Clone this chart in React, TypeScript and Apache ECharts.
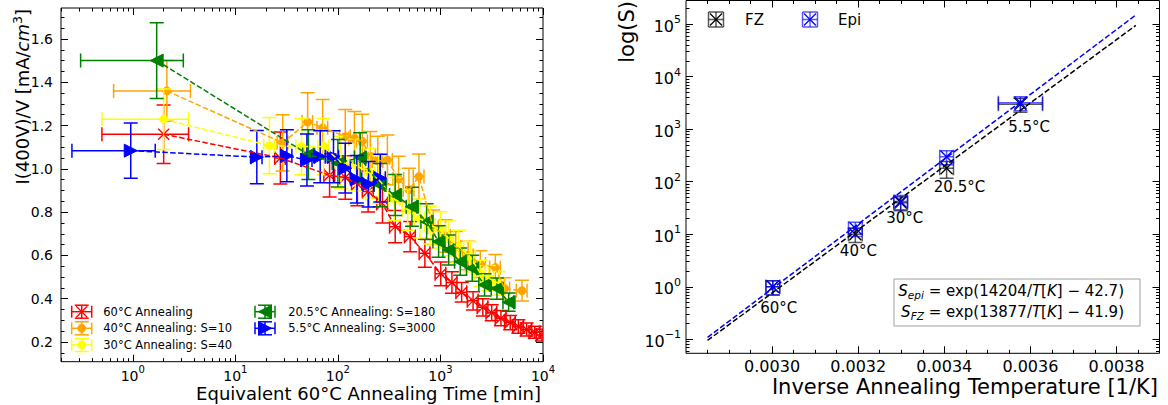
import React, { useEffect, useRef } from 'react';
import * as echarts from 'echarts';

const FONT = 'DejaVu Sans';

// ---------------- Left panel: I(400V)/V vs equivalent 60°C annealing time ----------------
const redT = [2.0, 27.5, 83, 118, 155, 197, 272, 362, 507, 705, 1007, 1294, 1610, 2080, 2590, 3160, 3890, 4790, 5750, 6920, 8320, 9770];
const redV = [1.16, 1.05, 0.97, 0.96, 0.93, 0.895, 0.84, 0.733, 0.687, 0.61, 0.515, 0.475, 0.43, 0.39, 0.36, 0.335, 0.31, 0.29, 0.272, 0.258, 0.245, 0.232];
const redTErr = [1.5, 3.3, 10, 14, 19, 24, 33, 43, 61, 85, 120, 155, 195, 250, 310, 380, 470, 575, 690, 830, 1000, 1170];
const redVErr = [0.135, 0.12, 0.1, 0.1, 0.1, 0.095, 0.09, 0.075, 0.07, 0.065, 0.055, 0.05, 0.045, 0.042, 0.04, 0.037, 0.035, 0.033, 0.031, 0.03, 0.028, 0.027];

const orangeT = [2.15, 29, 50.7, 71, 118, 145, 173, 207, 245, 304, 391, 493, 617, 850, 1120, 1410, 1860, 2450, 3430, 4220, 6240];
const orangeV = [1.36, 1.12, 1.216, 1.19, 1.149, 1.14, 1.127, 1.058, 1.036, 1.041, 0.953, 0.903, 0.964, 0.73, 0.69, 0.64, 0.6, 0.56, 0.544, 0.447, 0.437];
const orangeTErr = [1.5, 3.5, 6, 8.5, 14, 17, 21, 25, 29, 36, 47, 59, 74, 100, 135, 170, 220, 295, 410, 505, 750];
const orangeVErr = [0.14, 0.13, 0.135, 0.13, 0.125, 0.125, 0.125, 0.115, 0.115, 0.115, 0.105, 0.1, 0.105, 0.08, 0.075, 0.07, 0.066, 0.062, 0.06, 0.05, 0.048];

const yellowT = [2.0, 21.5, 44.2, 72.4, 107, 148, 204, 251, 355, 479, 631, 794, 1000, 1202, 1503, 1950, 2443, 2951, 3690];
const yellowV = [1.229, 1.107, 1.103, 1.103, 1.03, 1.018, 0.98, 0.95, 0.86, 0.81, 0.77, 0.74, 0.718, 0.679, 0.641, 0.594, 0.518, 0.495, 0.471];
const yellowTErr = [1.5, 2.6, 5.3, 8.7, 13, 18, 24, 30, 43, 57, 76, 95, 120, 145, 180, 235, 295, 355, 445];
const yellowVErr = [0.14, 0.13, 0.13, 0.13, 0.12, 0.12, 0.115, 0.11, 0.1, 0.095, 0.09, 0.087, 0.084, 0.08, 0.075, 0.07, 0.06, 0.058, 0.055];

const greenT = [1.71, 51.6, 100, 165, 257, 362, 527, 733, 959, 1202, 1560, 2042, 2692, 3556, 4624];
const greenV = [1.5, 1.066, 1.026, 1.052, 0.925, 0.879, 0.825, 0.756, 0.664, 0.625, 0.571, 0.541, 0.464, 0.447, 0.384];
const greenTErr = [1.4, 6.2, 12, 20, 31, 43, 63, 88, 115, 145, 187, 245, 323, 427, 555];
const greenVErr = [0.175, 0.115, 0.11, 0.115, 0.1, 0.095, 0.09, 0.083, 0.073, 0.069, 0.063, 0.06, 0.051, 0.049, 0.042];

const blueT = [0.955, 16.2, 31.8, 49.9, 67.2, 90.6, 118, 153, 199, 259];
const blueV = [1.084, 1.054, 1.06, 1.041, 1.056, 1.056, 1.003, 0.952, 0.929, 0.957];
const blueTErr = [0.7, 2, 3.8, 6, 8, 11, 14, 18, 24, 31];
const blueVErr = [0.128, 0.123, 0.12, 0.12, 0.12, 0.12, 0.115, 0.11, 0.105, 0.11];

const leftNames = ['60°C Annealing', '40°C Annealing: S=10', '30°C Annealing: S=40', '20.5°C Annealing: S=180', '5.5°C Annealing: S=3000'];
const leftXDecades = [0, 1, 2, 3, 4];
const leftYMajor = [0.2, 0.4, 0.6, 0.8, 1.0, 1.2, 1.4, 1.6];
const leftYMinor = [0.15, 0.25, 0.3, 0.35, 0.45, 0.5, 0.55, 0.65, 0.7, 0.75, 0.85, 0.9, 0.95, 1.05, 1.1, 1.15, 1.25, 1.3, 1.35, 1.45, 1.5, 1.55, 1.65, 1.7];

// ---------------- Right panel: scaling factor S vs inverse temperature ----------------
const tempLabels = ['60°C', '40°C', '30°C', '20.5°C', '5.5°C'];
const invT = [0.0030017, 0.0031934, 0.0032987, 0.0034054, 0.003577];
const invTErr = [0.000016, 0.000016, 0.000016, 0.000016, 0.0000513];
const sFZ = [1, 10, 40, 180, 3000];
const sFZErr = [0.3, 0.3, 0.3, 0.35, 0.3];
const sEpi = [1, 13, 42, 300, 3200];
const sEpiErr = [0.3, 0.3, 0.3, 0.3, 0.3];
const fitA = [13877, 14204]; // FZ, Epi
const fitB = [41.9, 42.7];
const fitX = [0.00285, 0.003845];
const annInvT = [0.0030155, 0.0032005, 0.0033082, 0.0034354, 0.0035972];
const annS = [0.388, 4.84, 20.0, 78, 1110];
const rightXMajor = [0.0030, 0.0032, 0.0034, 0.0036, 0.0038];
const rightXMinor = [0.00285, 0.0029, 0.00295, 0.00305, 0.0031, 0.00315, 0.00325, 0.0033, 0.00335, 0.00345, 0.0035, 0.00355, 0.00365, 0.0037, 0.00375, 0.00385];
const rightYDecades = [-1, 0, 1, 2, 3, 4, 5];

const L10 = Math.log10;

function logMinor(decades: number[], lo: number, hi: number) {
  const out: number[] = [];
  for (let d = decades[0] - 1; d <= decades[decades.length - 1]; d++) {
    for (let k = 2; k <= 9; k++) {
      const v = d + L10(k);
      if (v > lo && v < hi) out.push(v);
    }
  }
  return out;
}

function expStr(v: number) {
  const n = Math.round(v);
  return n < 0 ? '−' + Math.abs(n) : String(n);
}

function markerEls(kind: string, cx: number, cy: number, color: string, r: number, lw: number) {
  if (kind === 'x') {
    return [
      { type: 'line', shape: { x1: cx - r, y1: cy - r, x2: cx + r, y2: cy + r }, style: { stroke: color, lineWidth: lw } },
      { type: 'line', shape: { x1: cx - r, y1: cy + r, x2: cx + r, y2: cy - r }, style: { stroke: color, lineWidth: lw } },
    ];
  }
  if (kind === 'o') {
    return [{ type: 'circle', shape: { cx, cy, r }, style: { fill: color, stroke: color, lineWidth: 1 } }];
  }
  if (kind === '<') {
    return [{ type: 'polygon', shape: { points: [[cx - r, cy], [cx + r, cy - r], [cx + r, cy + r]] }, style: { fill: color, stroke: color, lineWidth: 1 } }];
  }
  return [{ type: 'polygon', shape: { points: [[cx + r, cy], [cx - r, cy - r], [cx - r, cy + r]] }, style: { fill: color, stroke: color, lineWidth: 1 } }];
}

function barEls(cx: number, cy: number, xl: number, xr: number, yt: number, yb: number, capX: number, capY: number, color: string, lw: number, opacity: number) {
  const st = { stroke: color, lineWidth: lw, opacity };
  return [
    { type: 'line', shape: { x1: xl, y1: cy, x2: xr, y2: cy }, style: st },
    { type: 'line', shape: { x1: xl, y1: cy - capX, x2: xl, y2: cy + capX }, style: st },
    { type: 'line', shape: { x1: xr, y1: cy - capX, x2: xr, y2: cy + capX }, style: st },
    { type: 'line', shape: { x1: cx, y1: yt, x2: cx, y2: yb }, style: st },
    { type: 'line', shape: { x1: cx - capY, y1: yt, x2: cx + capY, y2: yt }, style: st },
    { type: 'line', shape: { x1: cx - capY, y1: yb, x2: cx + capY, y2: yb }, style: st },
  ];
}

function errSeries(xIdx: number, rows: number[][], color: string, marker: string, r: number, cap: number, lw: number, barOpacity: number) {
  return {
    type: 'custom',
    xAxisIndex: xIdx,
    yAxisIndex: xIdx,
    clip: true,
    silent: true,
    encode: { x: 0, y: 1 },
    data: rows,
    renderItem: (_p: any, api: any) => {
      const x = api.value(0);
      const y = api.value(1);
      const c = api.coord([x, y]);
      const l = api.coord([api.value(2), y]);
      const rr = api.coord([api.value(3), y]);
      const lo = api.coord([x, api.value(4)]);
      const hi = api.coord([x, api.value(5)]);
      return {
        type: 'group',
        children: [
          ...barEls(c[0], c[1], l[0], rr[0], hi[1], lo[1], cap, cap, color, lw, barOpacity),
          ...markerEls(marker, c[0], c[1], color, r, marker === 'x' ? 1.3 : 1),
        ],
      };
    },
  };
}

function axisSet(dim: 'x' | 'y', gridIndex: number, min: number, max: number, major: number[], minor: number[], label: any) {
  const pos = dim === 'x' ? ['bottom', 'top'] : ['left', 'right'];
  const mk = (position: string, vals: number[], len: number, withLabel: boolean) => ({
    type: 'value',
    gridIndex,
    position,
    min,
    max,
    silent: true,
    axisLine: { show: false, onZero: false },
    splitLine: { show: false },
    axisTick: { show: true, inside: true, length: len, customValues: vals, lineStyle: { color: '#000', width: 1 } },
    axisLabel: withLabel ? { ...label, customValues: major } : { show: false },
  });
  return [mk(pos[0], major, 7, true), mk(pos[0], minor, 3.5, false), mk(pos[1], major, 7, false), mk(pos[1], minor, 3.5, false)];
}

function buildOption() {
  const groups = [
    { color: '#ff0000', marker: 'x', r: 5.5, t: redT, v: redV, te: redTErr, ve: redVErr },
    { color: '#ffa500', marker: 'o', r: 4, t: orangeT, v: orangeV, te: orangeTErr, ve: orangeVErr },
    { color: '#ffff00', marker: 'o', r: 4, t: yellowT, v: yellowV, te: yellowTErr, ve: yellowVErr },
    { color: '#008000', marker: '<', r: 6.5, t: greenT, v: greenV, te: greenTErr, ve: greenVErr },
    { color: '#0000ff', marker: '>', r: 6.5, t: blueT, v: blueV, te: blueTErr, ve: blueVErr },
  ];

  const series: any[] = [];
  groups.forEach((g) => {
    series.push({
      type: 'line',
      xAxisIndex: 0,
      yAxisIndex: 0,
      silent: true,
      symbol: 'none',
      data: g.t.map((t, i) => [L10(t), g.v[i]]),
      lineStyle: { color: g.color, width: 1.5, type: [5.5, 2.4] },
    });
    series.push(
      errSeries(
        0,
        g.t.map((t, i) => [L10(t), g.v[i], L10(t - g.te[i]), L10(t + g.te[i]), g.v[i] - g.ve[i], g.v[i] + g.ve[i]]),
        g.color,
        g.marker,
        g.r,
        7,
        1.5,
        1
      )
    );
  });

  // right panel points
  const rightGroups = [
    { color: '#000000', s: sFZ, e: sFZErr },
    { color: '#0000ff', s: sEpi, e: sEpiErr },
  ];
  rightGroups.forEach((g) => {
    series.push(
      errSeries(
        4,
        invT.map((x, i) => [x, L10(g.s[i]), x - invTErr[i], x + invTErr[i], L10(g.s[i] * (1 - g.e[i])), L10(g.s[i] * (1 + g.e[i]))]),
        g.color,
        'x',
        6,
        7,
        1.5,
        0.65
      )
    );
  });
  // fit lines
  rightGroups.forEach((g, k) => {
    series.push({
      type: 'line',
      xAxisIndex: 4,
      yAxisIndex: 4,
      silent: true,
      symbol: 'none',
      data: fitX.map((x) => [x, (fitA[k] * x - fitB[k]) / Math.LN10]),
      lineStyle: { color: g.color, width: 1.5, type: [5.5, 2.4] },
    });
  });
  // temperature annotations
  series.push({
    type: 'custom',
    xAxisIndex: 4,
    yAxisIndex: 4,
    silent: true,
    encode: { x: 0, y: 1 },
    data: annInvT.map((x, i) => [x, L10(annS[i])]),
    renderItem: (p: any, api: any) => {
      const c = api.coord([api.value(0), api.value(1)]);
      return {
        type: 'text',
        x: c[0],
        y: c[1],
        style: {
          text: tempLabels[p.dataIndex],
          fill: '#000',
          fontSize: 15,
          fontFamily: FONT,
          align: 'center',
          verticalAlign: 'middle',
          textAlign: 'center',
          textVerticalAlign: 'middle',
        },
      };
    },
  });

  const leftXMinor = logMinor(leftXDecades, -0.7, 4.0);
  const rightYMinor = logMinor(rightYDecades, -1.266, 5.45);

  const logLabel = (size: number, supSize: number, lh: number, raise: number, margin: number) => ({
    show: true,
    color: '#000',
    fontSize: size,
    fontFamily: FONT,
    margin,
    formatter: (v: number) => `{b|10}{s|${expStr(v)}}`,
    rich: {
      b: { fontSize: size, fontFamily: FONT, color: '#000', lineHeight: lh, verticalAlign: 'bottom' },
      s: { fontSize: supSize, fontFamily: FONT, color: '#000', lineHeight: lh - 2 * raise, verticalAlign: 'top' },
    },
  });

  const xAxis = [
    ...axisSet('x', 0, -0.7, 4.0, leftXDecades, leftXMinor, logLabel(14, 10, 18, 5, 3)),
    ...axisSet('x', 1, 0.0028, 0.0039, rightXMajor, rightXMinor, {
      show: true, color: '#000', fontSize: 16, fontFamily: FONT, margin: 5,
      formatter: (v: number) => v.toFixed(4),
    }),
  ];
  const yAxis = [
    ...axisSet('y', 0, 0.109, 1.743, leftYMajor, leftYMinor, {
      show: true, color: '#000', fontSize: 14, fontFamily: FONT, margin: 8,
      formatter: (v: number) => v.toFixed(1),
    }),
    ...axisSet('y', 1, -1.266, 5.45, rightYDecades, rightYMinor, logLabel(16, 11, 20, 5.5, 5)),
  ];

  // legends and titles
  const leftLegendMarkers = ['x', 'o', 'o', '<', '>'];
  const leftLegendColors = groups.map((g) => g.color);
  const leftLegendR = groups.map((g) => g.r);
  const legendPos = [
    [81.7, 311.7, 103.3], [81.7, 328.3, 103.3], [81.7, 345, 103.3],
    [265, 311.7, 288.3], [265, 328.3, 288.3],
  ];
  const graphic: any[] = [];
  leftNames.forEach((name, i) => {
    const [cx, cy, tx] = legendPos[i];
    graphic.push({
      type: 'group',
      x: cx,
      y: cy,
      silent: true,
      children: [
        ...barEls(0, 0, -10, 10, -6.5, 6.5, 6, 7, leftLegendColors[i], 1.5, 1),
        ...markerEls(leftLegendMarkers[i], 0, 0, leftLegendColors[i], leftLegendR[i], leftLegendMarkers[i] === 'x' ? 1.3 : 1),
      ],
    });
    graphic.push({
      type: 'text', x: tx, y: cy, silent: true,
      style: { text: name, fill: '#000', fontSize: 11.5, fontFamily: FONT, align: 'left', verticalAlign: 'middle', textAlign: 'left', textVerticalAlign: 'middle' },
    });
  });
  const rightLegend = [
    { name: 'FZ', color: '#000000', cx: 716, tx: 745 },
    { name: 'Epi', color: '#0000ff', cx: 810, tx: 838 },
  ];
  rightLegend.forEach((it) => {
    graphic.push({
      type: 'group', x: it.cx, y: 19.5, silent: true,
      children: [
        ...barEls(0, 0, -7.5, 7.5, -7.5, 7.5, 7.5, 7.5, it.color, 1.5, 0.65),
        ...markerEls('x', 0, 0, it.color, 6, 1.3),
      ],
    });
    graphic.push({
      type: 'text', x: it.tx, y: 20, silent: true,
      style: { text: it.name, fill: '#000', fontSize: 15, fontFamily: FONT, align: 'left', verticalAlign: 'middle', textAlign: 'left', textVerticalAlign: 'middle' },
    });
  });

  // fit box
  const boxRich = {
    n: { fontSize: 15, fontFamily: FONT, color: '#000' },
    i: { fontSize: 15, fontFamily: FONT, fontStyle: 'italic', color: '#000' },
    sb: { fontSize: 10.5, fontFamily: FONT, fontStyle: 'italic', color: '#000', padding: [8, 0, 0, 0] },
  };
  graphic.push({
    type: 'rect', silent: true,
    shape: { x: 894, y: 279, width: 246, height: 47 },
    style: { fill: '#fff', stroke: '#a0a0a0', lineWidth: 1 },
  });
  graphic.push({
    type: 'text', x: 1124, y: 290.5, silent: true,
    style: {
      text: `{i|S}{sb|epi}{n| = exp(${fitA[1]}/}{i|T}{n|[}{i|K}{n|] − ${fitB[1]})}`,
      rich: boxRich, align: 'right', verticalAlign: 'middle', textAlign: 'right', textVerticalAlign: 'middle',
    },
  });
  graphic.push({
    type: 'text', x: 1124, y: 311.5, silent: true,
    style: {
      text: `{i|S}{sb|FZ}{n| = exp(${fitA[0]}/}{i|T}{n|[}{i|K}{n|] − ${fitB[0]})}`,
      rich: boxRich, align: 'right', verticalAlign: 'middle', textAlign: 'right', textVerticalAlign: 'middle',
    },
  });

  // axis titles
  graphic.push({
    type: 'text', x: 541, y: 393, silent: true,
    style: { text: 'Equivalent 60°C Annealing Time [min]', fill: '#000', fontSize: 18, fontFamily: FONT, align: 'right', verticalAlign: 'middle', textAlign: 'right', textVerticalAlign: 'middle' },
  });
  graphic.push({
    type: 'text', x: 22, y: 9, rotation: Math.PI / 2, silent: true,
    style: {
      text: '{n|I(400V)/V [mA/}{i|cm}{s|3}{n|]}',
      rich: {
        n: { fontSize: 18, fontFamily: FONT, color: '#000' },
        i: { fontSize: 18, fontFamily: FONT, fontStyle: 'italic', color: '#000' },
        s: { fontSize: 12.5, fontFamily: FONT, color: '#000', padding: [0, 0, 10, 0] },
      },
      align: 'right', verticalAlign: 'middle', textAlign: 'right', textVerticalAlign: 'middle',
    },
  });
  graphic.push({
    type: 'text', x: 1158, y: 387, silent: true,
    style: { text: 'Inverse Annealing Temperature [1/K]', fill: '#000', fontSize: 21, fontFamily: FONT, align: 'right', verticalAlign: 'middle', textAlign: 'right', textVerticalAlign: 'middle' },
  });
  graphic.push({
    type: 'text', x: 627, y: 1, rotation: Math.PI / 2, silent: true,
    style: { text: 'log(S)', fill: '#000', fontSize: 21, fontFamily: FONT, align: 'right', verticalAlign: 'middle', textAlign: 'right', textVerticalAlign: 'middle' },
  });

  return {
    animation: false,
    backgroundColor: '#ffffff',
    textStyle: { fontFamily: FONT },
    grid: [
      { left: 61, top: 8, width: 482, height: 353.7, show: true, borderColor: '#000', borderWidth: 1, backgroundColor: 'transparent', containLabel: false, outerBoundsMode: 'none' },
      { left: 686, top: 0.5, width: 473.5, height: 352.8, show: true, borderColor: '#000', borderWidth: 1, backgroundColor: 'transparent', containLabel: false, outerBoundsMode: 'none' },
    ],
    xAxis,
    yAxis,
    series,
    graphic,
  };
}

export default function App() {
  const ref = useRef<HTMLDivElement>(null);
  useEffect(() => {
    const chart = echarts.init(ref.current as HTMLDivElement, null, { renderer: 'svg' });
    chart.setOption(buildOption() as any);
    return () => chart.dispose();
  }, []);
  return <div ref={ref} style={{ position: 'absolute', left: 0, top: 0, width: 1168, height: 405, background: '#fff' }} />;
}
